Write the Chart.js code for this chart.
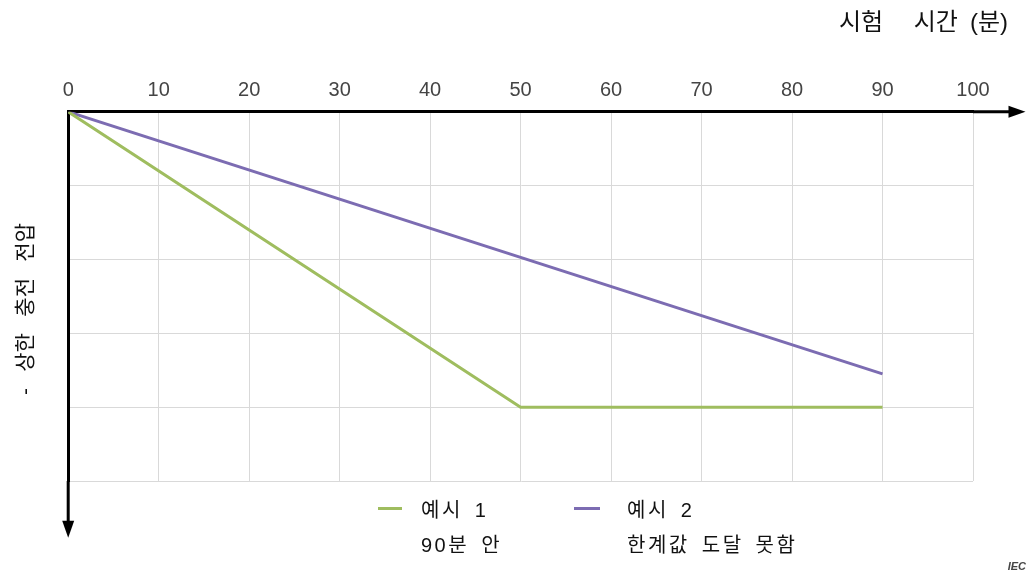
<!DOCTYPE html>
<html>
<head>
<meta charset="utf-8">
<script src="https://cdn.jsdelivr.net/npm/chart.js@4/dist/chart.umd.min.js"></script>
<style>
  html, body { margin: 0; padding: 0; background: #fff; }
  #wrap { position: relative; width: 1028px; height: 577px; }
  #legend { position: absolute; left: 0; top: 0; width: 1028px; height: 577px; pointer-events: none;
    font-family: "Liberation Sans", "Noto Sans CJK KR", sans-serif; font-size: 20px; color: #111;
    letter-spacing: 2.5px; word-spacing: 4px; }
  .sw { position: absolute; height: 3px; }
  .lt { position: absolute; line-height: 35px; white-space: pre; }
  #iec { position: absolute; right: 2px; top: 560px; font-family: "Liberation Sans", sans-serif;
    font-size: 11px; font-weight: bold; font-style: italic; color: #444; }
</style>
</head>
<body>
<div id="wrap">
  <canvas id="c" width="1028" height="577"></canvas>
  <div id="legend"></div>
  <div id="iec">IEC</div>
</div>
<script>
// ---- data ----
const xTicks = [0, 10, 20, 30, 40, 50, 60, 70, 80, 90, 100];
const ex1Time = [0, 50, 90];
const ex1Value = [0, 4, 4];
const ex2Time = [0, 90];
const ex2Value = [0, 3.55];
const ex1Label = ['예시 1', '90분 안'];
const ex2Label = ['예시 2', '한계값 도달 못함'];
const xTitle = '시험\u3000 시간\u2002(분)';
const yTitle = '-\u2002 상한\u2002 충전\u2002 전압\u3000\u2009';

const GREEN = '#9fbd5f';
const PURPLE = '#7c6cb2';
const FONT = '"Liberation Sans", "Noto Sans CJK KR", sans-serif';

const pts = (xs, ys) => xs.map((x, i) => ({ x: x, y: ys[i] }));

// legend positions (layout only)
const legendPos = [
  { sw: [378, 24], text: 421, y: 508 },
  { sw: [574, 26], text: 627, y: 508 }
];

const arrowAxes = {
  id: 'arrowAxes',
  afterDatasetsDraw(chart) {
    const ctx = chart.ctx;
    const xs = chart.scales.x, ys = chart.scales.y;
    const top = chart.chartArea.top, left = chart.chartArea.left;
    const xEnd = xs.getPixelForValue(105.8);
    const yEnd = ys.getPixelForValue(5.77);
    const head = 17, half = 6;
    ctx.save();
    ctx.strokeStyle = '#000';
    ctx.fillStyle = '#000';
    ctx.lineWidth = 3;
    ctx.beginPath();
    ctx.moveTo(chart.chartArea.right, top);
    ctx.lineTo(xEnd - head + 2, top);
    ctx.moveTo(left, chart.chartArea.bottom);
    ctx.lineTo(left, yEnd - head + 2);
    ctx.stroke();
    ctx.beginPath();
    ctx.moveTo(xEnd, top);
    ctx.lineTo(xEnd - head, top - half);
    ctx.lineTo(xEnd - head, top + half);
    ctx.closePath();
    ctx.fill();
    ctx.beginPath();
    ctx.moveTo(left, yEnd);
    ctx.lineTo(left - half, yEnd - head);
    ctx.lineTo(left + half, yEnd - head);
    ctx.closePath();
    ctx.fill();
    ctx.restore();
  }
};

const htmlLegend = {
  id: 'htmlLegend',
  afterUpdate(chart) {
    const box = document.getElementById('legend');
    box.innerHTML = '';
    chart.data.datasets.forEach((ds, i) => {
      const p = legendPos[i];
      const sw = document.createElement('div');
      sw.className = 'sw';
      sw.style.left = p.sw[0] + 'px';
      sw.style.width = p.sw[1] + 'px';
      sw.style.top = (p.y - 1.5) + 'px';
      sw.style.background = ds.borderColor;
      box.appendChild(sw);
      const t = document.createElement('div');
      t.className = 'lt';
      t.style.left = p.text + 'px';
      t.style.top = (p.y + 2 - 17.5) + 'px';
      t.textContent = ds.label.join('\n');
      box.appendChild(t);
    });
  }
};

new Chart(document.getElementById('c'), {
  type: 'line',
  data: {
    datasets: [
      { label: ex1Label, data: pts(ex1Time, ex1Value), borderColor: GREEN, borderWidth: 3, pointRadius: 0, tension: 0, fill: false },
      { label: ex2Label, data: pts(ex2Time, ex2Value), borderColor: PURPLE, borderWidth: 3, pointRadius: 0, tension: 0, fill: false }
    ]
  },
  options: {
    responsive: false,
    animation: false,
    events: [],
    layout: { padding: { top: 0, right: 20, bottom: 96, left: 6 } },
    plugins: {
      legend: { display: false },
      tooltip: { enabled: false },
      title: {
        display: true,
        text: xTitle,
        align: 'end',
        color: '#111',
        font: { family: FONT, size: 24, weight: 'normal' },
        padding: { top: 9, bottom: 32 }
      }
    },
    scales: {
      x: {
        type: 'linear',
        position: 'top',
        min: 0,
        max: 100,
        afterBuildTicks(s) { s.ticks = xTicks.map(v => ({ value: v })); },
        ticks: { color: '#444', font: { family: FONT, size: 20 }, padding: 9, maxRotation: 0, autoSkip: false },
        grid: { color: '#d9d9d9', lineWidth: 1, drawTicks: false },
        border: { display: true, color: '#000', width: 3 }
      },
      y: {
        type: 'linear',
        position: 'left',
        reverse: true,
        min: 0,
        max: 5,
        ticks: { display: false, stepSize: 1 },
        grid: { color: '#d9d9d9', lineWidth: 1, drawTicks: false },
        border: { display: true, color: '#000', width: 3 },
        title: {
          display: true,
          text: yTitle,
          color: '#111',
          font: { family: FONT, size: 21, weight: 'normal' },
          padding: { top: 8, bottom: 29 }
        }
      },
      pad: {
        type: 'linear',
        position: 'right',
        display: true,
        ticks: { display: false },
        grid: { display: false, drawTicks: false },
        border: { display: false },
        afterFit(s) { s.width = 35; }
      }
    }
  },
  plugins: [arrowAxes, htmlLegend]
});
</script>
</body>
</html>
